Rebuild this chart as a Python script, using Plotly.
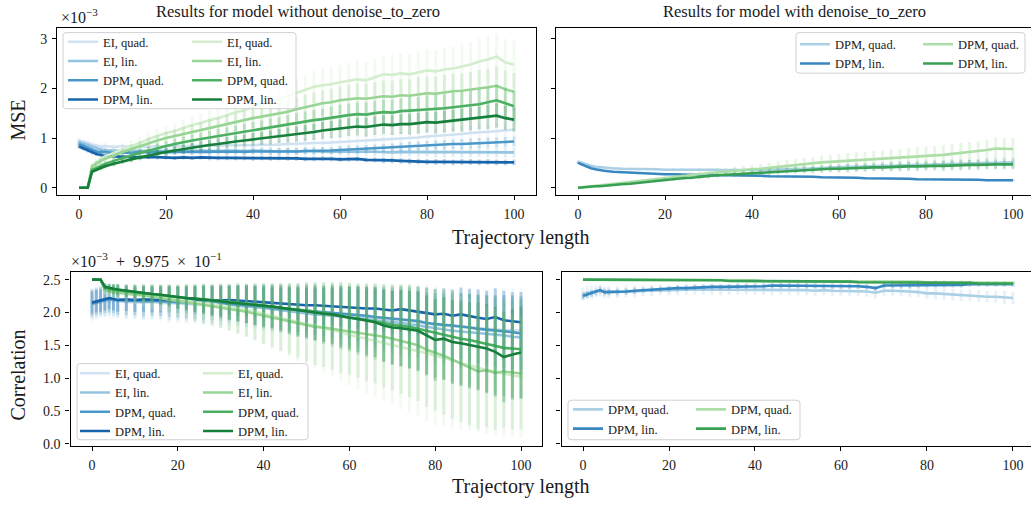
import plotly.graph_objects as go

W, H = 1031, 506

# ---------------- data ----------------
steps = [0, 1, 2, 3, 4, 5, 6, 8, 10, 12, 14, 16, 18, 20, 22, 24, 26, 28, 30, 32, 34,
         36, 38, 40, 42, 44, 46, 48, 50, 52, 54, 56, 58, 60, 62, 64, 66, 68, 70, 72,
         74, 76, 78, 80, 82, 84, 86, 88, 90, 92, 94, 96, 98, 100]

# MSE (x 1e-3), model without denoise_to_zero -- blue group
mse_a_b_ei_quad = [0.95, 0.92, 0.90, 0.87, 0.85, 0.83, 0.84,
                   0.82, 0.84, 0.82, 0.83, 0.82, 0.84, 0.83,
                   0.84, 0.83, 0.85, 0.84, 0.85, 0.84, 0.86,
                   0.85, 0.86, 0.85, 0.87, 0.86, 0.87, 0.88,
                   0.88, 0.89, 0.90, 0.90, 0.91, 0.92, 0.93,
                   0.94, 0.94, 0.96, 0.97, 0.97, 0.99, 1.00,
                   1.01, 1.03, 1.04, 1.05, 1.07, 1.08, 1.10,
                   1.11, 1.12, 1.14, 1.15, 1.17]
mse_a_b_ei_lin = [0.92, 0.89, 0.86, 0.82, 0.79, 0.77, 0.76,
                  0.75, 0.74, 0.75, 0.74, 0.75, 0.74, 0.74,
                  0.75, 0.74, 0.74, 0.75, 0.74, 0.74, 0.75,
                  0.74, 0.74, 0.75, 0.74, 0.74, 0.73, 0.74,
                  0.73, 0.74, 0.73, 0.73, 0.72, 0.73, 0.72,
                  0.72, 0.73, 0.72, 0.72, 0.71, 0.72, 0.72,
                  0.71, 0.72, 0.71, 0.71, 0.72, 0.71, 0.71,
                  0.72, 0.71, 0.71, 0.71, 0.71]
mse_a_b_dpm_quad = [0.88, 0.84, 0.80, 0.76, 0.73, 0.72, 0.71,
                    0.70, 0.71, 0.70, 0.72, 0.71, 0.72, 0.71,
                    0.72, 0.72, 0.71, 0.72, 0.72, 0.73, 0.72,
                    0.73, 0.72, 0.73, 0.73, 0.72, 0.73, 0.73,
                    0.73, 0.74, 0.74, 0.75, 0.75, 0.76, 0.77,
                    0.77, 0.78, 0.79, 0.80, 0.81, 0.82, 0.83,
                    0.84, 0.85, 0.86, 0.87, 0.88, 0.88, 0.89,
                    0.90, 0.91, 0.91, 0.92, 0.93]
mse_a_b_dpm_lin = [0.83, 0.79, 0.75, 0.71, 0.68, 0.66, 0.64,
                   0.63, 0.62, 0.62, 0.61, 0.62, 0.61, 0.61,
                   0.60, 0.61, 0.60, 0.61, 0.60, 0.60, 0.60,
                   0.60, 0.60, 0.59, 0.60, 0.59, 0.60, 0.59,
                   0.59, 0.58, 0.58, 0.59, 0.58, 0.57, 0.57,
                   0.58, 0.56, 0.56, 0.55, 0.55, 0.54, 0.53,
                   0.53, 0.52, 0.52, 0.52, 0.51, 0.52, 0.52,
                   0.51, 0.52, 0.51, 0.51, 0.51]
# green group
mse_a_g_ei_quad = [0.00, 0.00, 0.00, 0.45, 0.52, 0.58, 0.63,
                   0.70, 0.78, 0.84, 0.90, 0.98, 1.04, 1.10,
                   1.14, 1.20, 1.26, 1.30, 1.36, 1.40, 1.46,
                   1.52, 1.56, 1.64, 1.66, 1.72, 1.78, 1.84,
                   1.90, 1.96, 2.03, 2.06, 2.08, 2.12, 2.15,
                   2.18, 2.16, 2.22, 2.28, 2.27, 2.30, 2.28,
                   2.32, 2.36, 2.34, 2.38, 2.40, 2.44, 2.48,
                   2.54, 2.58, 2.64, 2.52, 2.48]
mse_a_g_ei_lin = [0.00, 0.00, 0.00, 0.42, 0.48, 0.54, 0.58,
                  0.64, 0.72, 0.78, 0.84, 0.90, 0.95, 1.00,
                  1.04, 1.08, 1.12, 1.16, 1.21, 1.24, 1.28,
                  1.32, 1.36, 1.40, 1.43, 1.46, 1.50, 1.53,
                  1.58, 1.62, 1.66, 1.70, 1.72, 1.76, 1.78,
                  1.80, 1.79, 1.82, 1.84, 1.83, 1.86, 1.85,
                  1.88, 1.90, 1.89, 1.92, 1.94, 1.95, 1.97,
                  2.00, 2.02, 2.05, 1.98, 1.93]
mse_a_g_dpm_quad = [0.00, 0.00, 0.00, 0.36, 0.40, 0.44, 0.48,
                    0.54, 0.60, 0.65, 0.70, 0.75, 0.80, 0.84,
                    0.88, 0.92, 0.95, 0.98, 1.01, 1.04, 1.07,
                    1.10, 1.13, 1.16, 1.18, 1.21, 1.24, 1.27,
                    1.30, 1.33, 1.36, 1.38, 1.41, 1.44, 1.46,
                    1.48, 1.47, 1.50, 1.52, 1.51, 1.54, 1.55,
                    1.56, 1.58, 1.59, 1.60, 1.62, 1.64, 1.66,
                    1.68, 1.72, 1.76, 1.70, 1.64]
mse_a_g_dpm_lin = [0.00, 0.00, 0.00, 0.32, 0.36, 0.40, 0.43,
                   0.48, 0.53, 0.57, 0.61, 0.65, 0.69, 0.72,
                   0.75, 0.78, 0.81, 0.84, 0.86, 0.88, 0.91,
                   0.93, 0.95, 0.97, 0.99, 1.01, 1.04, 1.06,
                   1.08, 1.10, 1.12, 1.15, 1.17, 1.19, 1.22,
                   1.23, 1.22, 1.25, 1.27, 1.26, 1.28, 1.28,
                   1.30, 1.32, 1.31, 1.33, 1.35, 1.36, 1.38,
                   1.40, 1.42, 1.45, 1.40, 1.37]
# error-bar half widths
mse_a_b_ei_quad_err = [0.06, 0.06, 0.06, 0.06, 0.06, 0.06, 0.06,
                       0.06, 0.06, 0.06, 0.07, 0.07, 0.07, 0.07,
                       0.07, 0.07, 0.08, 0.08, 0.08, 0.08, 0.08,
                       0.08, 0.09, 0.09, 0.09, 0.09, 0.09, 0.10,
                       0.10, 0.10, 0.10, 0.11, 0.11, 0.11, 0.11,
                       0.12, 0.12, 0.12, 0.12, 0.13, 0.13, 0.13,
                       0.13, 0.14, 0.14, 0.14, 0.14, 0.15, 0.15,
                       0.15, 0.15, 0.16, 0.16, 0.16]
mse_a_b_ei_lin_err = [0.05, 0.05, 0.05, 0.05, 0.05, 0.05, 0.05,
                      0.05, 0.05, 0.05, 0.05, 0.05, 0.05, 0.06,
                      0.06, 0.06, 0.06, 0.06, 0.06, 0.06, 0.06,
                      0.06, 0.07, 0.07, 0.07, 0.07, 0.07, 0.07,
                      0.07, 0.07, 0.08, 0.08, 0.08, 0.08, 0.08,
                      0.08, 0.08, 0.09, 0.09, 0.09, 0.09, 0.09,
                      0.09, 0.09, 0.10, 0.10, 0.10, 0.10, 0.10,
                      0.10, 0.10, 0.10, 0.10, 0.10]
mse_a_b_dpm_quad_err = [0.05, 0.05, 0.05, 0.05, 0.05, 0.05, 0.05,
                        0.05, 0.05, 0.05, 0.05, 0.05, 0.05, 0.05,
                        0.05, 0.05, 0.06, 0.06, 0.06, 0.06, 0.06,
                        0.06, 0.06, 0.06, 0.06, 0.07, 0.07, 0.07,
                        0.07, 0.07, 0.07, 0.07, 0.07, 0.08, 0.08,
                        0.08, 0.08, 0.08, 0.08, 0.08, 0.09, 0.09,
                        0.09, 0.09, 0.09, 0.09, 0.09, 0.10, 0.10,
                        0.10, 0.10, 0.10, 0.10, 0.10]
mse_a_b_dpm_lin_err = [0.04, 0.04, 0.04, 0.04, 0.04, 0.04, 0.04,
                       0.04, 0.04, 0.04, 0.04, 0.04, 0.04, 0.04,
                       0.04, 0.04, 0.04, 0.04, 0.05, 0.05, 0.05,
                       0.05, 0.05, 0.05, 0.05, 0.05, 0.05, 0.05,
                       0.05, 0.05, 0.05, 0.05, 0.05, 0.05, 0.05,
                       0.05, 0.05, 0.05, 0.06, 0.06, 0.06, 0.06,
                       0.06, 0.06, 0.06, 0.06, 0.06, 0.06, 0.06,
                       0.06, 0.06, 0.06, 0.06, 0.06]
mse_a_g_ei_quad_err = [0.00, 0.00, 0.00, 0.05, 0.06, 0.07, 0.08,
                       0.09, 0.10, 0.11, 0.12, 0.13, 0.14, 0.15,
                       0.16, 0.17, 0.18, 0.19, 0.20, 0.21, 0.22,
                       0.23, 0.24, 0.25, 0.26, 0.27, 0.28, 0.29,
                       0.30, 0.31, 0.32, 0.33, 0.34, 0.35, 0.36,
                       0.37, 0.38, 0.38, 0.39, 0.40, 0.40, 0.41,
                       0.42, 0.42, 0.43, 0.43, 0.44, 0.44, 0.45,
                       0.46, 0.46, 0.47, 0.47, 0.48]
mse_a_g_ei_lin_err = [0.00, 0.00, 0.00, 0.04, 0.05, 0.06, 0.06,
                      0.07, 0.08, 0.09, 0.10, 0.10, 0.11, 0.12,
                      0.13, 0.14, 0.14, 0.15, 0.16, 0.17, 0.18,
                      0.18, 0.19, 0.20, 0.21, 0.22, 0.22, 0.23,
                      0.24, 0.25, 0.26, 0.26, 0.27, 0.28, 0.29,
                      0.30, 0.30, 0.30, 0.31, 0.32, 0.32, 0.33,
                      0.34, 0.34, 0.34, 0.35, 0.35, 0.35, 0.36,
                      0.37, 0.37, 0.38, 0.38, 0.38]
mse_a_g_dpm_quad_err = [0.00, 0.00, 0.00, 0.03, 0.04, 0.05, 0.05,
                        0.06, 0.07, 0.07, 0.08, 0.08, 0.09, 0.10,
                        0.10, 0.11, 0.12, 0.12, 0.13, 0.14, 0.14,
                        0.15, 0.16, 0.16, 0.17, 0.18, 0.18, 0.19,
                        0.20, 0.20, 0.21, 0.21, 0.22, 0.23, 0.23,
                        0.24, 0.25, 0.25, 0.25, 0.26, 0.26, 0.27,
                        0.27, 0.28, 0.28, 0.28, 0.29, 0.29, 0.29,
                        0.30, 0.30, 0.31, 0.31, 0.31]
mse_a_g_dpm_lin_err = [0.00, 0.00, 0.00, 0.03, 0.03, 0.04, 0.04,
                       0.05, 0.05, 0.06, 0.06, 0.07, 0.07, 0.08,
                       0.08, 0.09, 0.09, 0.10, 0.10, 0.11, 0.11,
                       0.12, 0.12, 0.13, 0.13, 0.14, 0.14, 0.15,
                       0.15, 0.16, 0.16, 0.17, 0.17, 0.18, 0.18,
                       0.18, 0.19, 0.19, 0.19, 0.20, 0.20, 0.21,
                       0.21, 0.21, 0.22, 0.22, 0.22, 0.23, 0.23,
                       0.23, 0.24, 0.24, 0.24, 0.24]

# MSE (x 1e-3), model with denoise_to_zero
mse_b_b_dpm_quad = [0.52, 0.49, 0.46, 0.44, 0.42, 0.41, 0.40,
                    0.39, 0.38, 0.38, 0.37, 0.37, 0.37, 0.36,
                    0.36, 0.37, 0.36, 0.36, 0.36, 0.36, 0.35,
                    0.36, 0.35, 0.36, 0.35, 0.36, 0.37, 0.37,
                    0.38, 0.38, 0.39, 0.40, 0.40, 0.41, 0.42,
                    0.42, 0.43, 0.43, 0.44, 0.44, 0.45, 0.45,
                    0.46, 0.46, 0.47, 0.47, 0.48, 0.48, 0.49,
                    0.49, 0.50, 0.50, 0.51, 0.51]
mse_b_b_dpm_lin = [0.50, 0.46, 0.42, 0.39, 0.37, 0.35, 0.34,
                   0.32, 0.31, 0.30, 0.29, 0.28, 0.28, 0.27,
                   0.27, 0.26, 0.26, 0.26, 0.25, 0.25, 0.25,
                   0.25, 0.24, 0.24, 0.24, 0.23, 0.23, 0.23,
                   0.22, 0.22, 0.22, 0.21, 0.21, 0.20, 0.20,
                   0.20, 0.19, 0.19, 0.19, 0.18, 0.18, 0.18,
                   0.17, 0.17, 0.17, 0.16, 0.16, 0.16, 0.16,
                   0.16, 0.15, 0.15, 0.15, 0.15]
mse_b_g_dpm_quad = [0.00, 0.01, 0.02, 0.03, 0.04, 0.05, 0.06,
                    0.07, 0.09, 0.11, 0.13, 0.15, 0.17, 0.19,
                    0.21, 0.23, 0.25, 0.27, 0.29, 0.31, 0.32,
                    0.34, 0.35, 0.37, 0.38, 0.40, 0.42, 0.44,
                    0.46, 0.47, 0.49, 0.51, 0.52, 0.53, 0.55,
                    0.56, 0.57, 0.57, 0.58, 0.59, 0.60, 0.62,
                    0.63, 0.64, 0.65, 0.66, 0.68, 0.70, 0.71,
                    0.73, 0.76, 0.79, 0.78, 0.78]
mse_b_g_dpm_lin = [0.00, 0.01, 0.01, 0.02, 0.03, 0.03, 0.04,
                   0.05, 0.07, 0.08, 0.10, 0.12, 0.14, 0.16,
                   0.17, 0.19, 0.20, 0.22, 0.23, 0.25, 0.26,
                   0.27, 0.28, 0.30, 0.31, 0.32, 0.33, 0.34,
                   0.35, 0.36, 0.36, 0.37, 0.38, 0.38, 0.39,
                   0.40, 0.40, 0.41, 0.41, 0.42, 0.42, 0.43,
                   0.43, 0.44, 0.44, 0.44, 0.45, 0.45, 0.46,
                   0.46, 0.47, 0.47, 0.47, 0.47]
mse_b_b_dpm_quad_err = [0.04, 0.04, 0.04, 0.03, 0.03, 0.03, 0.03,
                        0.03, 0.03, 0.03, 0.03, 0.03, 0.03, 0.03,
                        0.03, 0.03, 0.03, 0.03, 0.03, 0.04, 0.04,
                        0.04, 0.04, 0.04, 0.05, 0.05, 0.05, 0.05,
                        0.06, 0.06, 0.06, 0.06, 0.07, 0.07, 0.07,
                        0.07, 0.08, 0.08, 0.08, 0.08, 0.08, 0.09,
                        0.09, 0.09, 0.09, 0.09, 0.10, 0.10, 0.10,
                        0.10, 0.10, 0.11, 0.11, 0.11]
mse_b_b_dpm_lin_err = [0.02, 0.02, 0.02, 0.02, 0.02, 0.02, 0.02,
                       0.02, 0.02, 0.02, 0.02, 0.02, 0.02, 0.02,
                       0.02, 0.02, 0.02, 0.02, 0.02, 0.02, 0.02,
                       0.02, 0.02, 0.02, 0.02, 0.02, 0.02, 0.02,
                       0.02, 0.02, 0.02, 0.02, 0.02, 0.02, 0.02,
                       0.02, 0.02, 0.02, 0.02, 0.02, 0.02, 0.02,
                       0.02, 0.02, 0.02, 0.02, 0.02, 0.02, 0.02,
                       0.02, 0.02, 0.02, 0.02, 0.02]
mse_b_g_dpm_quad_err = [0.00, 0.00, 0.00, 0.01, 0.01, 0.01, 0.01,
                        0.02, 0.02, 0.02, 0.03, 0.03, 0.04, 0.04,
                        0.05, 0.05, 0.06, 0.06, 0.07, 0.07, 0.08,
                        0.08, 0.09, 0.09, 0.10, 0.10, 0.11, 0.12,
                        0.12, 0.13, 0.13, 0.14, 0.14, 0.15, 0.15,
                        0.16, 0.16, 0.17, 0.17, 0.18, 0.18, 0.18,
                        0.19, 0.19, 0.19, 0.20, 0.20, 0.20, 0.21,
                        0.21, 0.21, 0.22, 0.22, 0.22]
mse_b_g_dpm_lin_err = [0.00, 0.00, 0.00, 0.01, 0.01, 0.01, 0.01,
                       0.01, 0.01, 0.02, 0.02, 0.02, 0.02, 0.03,
                       0.03, 0.03, 0.03, 0.04, 0.04, 0.04, 0.04,
                       0.05, 0.05, 0.05, 0.05, 0.06, 0.06, 0.06,
                       0.06, 0.07, 0.07, 0.07, 0.07, 0.07, 0.08,
                       0.08, 0.08, 0.08, 0.08, 0.09, 0.09, 0.09,
                       0.09, 0.09, 0.09, 0.10, 0.10, 0.10, 0.10,
                       0.10, 0.10, 0.10, 0.10, 0.10]

# Correlation, in units of 1e-3 above 0.9975 -- model without denoise_to_zero
cor_a_b_ei_quad = [2.12, 2.14, 2.16, 2.17, 2.18, 2.17, 2.17,
                   2.16, 2.15, 2.15, 2.16, 2.14, 2.14, 2.13,
                   2.13, 2.12, 2.12, 2.11, 2.11, 2.10, 2.10,
                   2.09, 2.08, 2.07, 2.05, 2.05, 2.03, 2.02,
                   2.00, 1.99, 1.98, 1.97, 1.96, 1.95, 1.94,
                   1.93, 1.92, 1.90, 1.89, 1.88, 1.86, 1.85,
                   1.83, 1.81, 1.80, 1.79, 1.78, 1.77, 1.75,
                   1.74, 1.74, 1.73, 1.73, 1.72]
cor_a_b_ei_lin = [2.13, 2.15, 2.17, 2.18, 2.20, 2.19, 2.18,
                  2.17, 2.17, 2.16, 2.17, 2.16, 2.15, 2.15,
                  2.14, 2.14, 2.13, 2.13, 2.12, 2.12, 2.11,
                  2.10, 2.09, 2.07, 2.05, 2.04, 2.02, 2.00,
                  1.98, 1.97, 1.96, 1.95, 1.94, 1.92, 1.91,
                  1.90, 1.88, 1.87, 1.85, 1.84, 1.82, 1.80,
                  1.77, 1.75, 1.74, 1.72, 1.71, 1.70, 1.68,
                  1.67, 1.66, 1.65, 1.63, 1.62]
cor_a_b_dpm_quad = [2.14, 2.16, 2.18, 2.20, 2.21, 2.20, 2.19,
                    2.18, 2.18, 2.17, 2.18, 2.17, 2.17, 2.16,
                    2.16, 2.15, 2.15, 2.14, 2.14, 2.13, 2.13,
                    2.12, 2.11, 2.09, 2.07, 2.06, 2.05, 2.03,
                    2.02, 2.01, 2.00, 1.99, 1.98, 1.97, 1.96,
                    1.95, 1.93, 1.92, 1.90, 1.90, 1.88, 1.87,
                    1.84, 1.82, 1.81, 1.80, 1.79, 1.77, 1.75,
                    1.74, 1.72, 1.71, 1.70, 1.68]
cor_a_b_dpm_lin = [2.15, 2.17, 2.18, 2.20, 2.22, 2.21, 2.19,
                   2.20, 2.19, 2.20, 2.19, 2.19, 2.20, 2.19,
                   2.19, 2.18, 2.19, 2.18, 2.18, 2.19, 2.18,
                   2.17, 2.16, 2.15, 2.14, 2.14, 2.13, 2.12,
                   2.11, 2.11, 2.10, 2.10, 2.09, 2.08, 2.07,
                   2.06, 2.06, 2.04, 2.03, 2.05, 2.03, 2.02,
                   2.00, 1.97, 1.98, 1.95, 1.97, 1.94, 1.92,
                   1.90, 1.93, 1.88, 1.86, 1.85]
cor_a_g_ei_quad = [2.50, 2.50, 2.50, 2.35, 2.33, 2.32, 2.31,
                   2.29, 2.28, 2.27, 2.25, 2.23, 2.21, 2.19,
                   2.18, 2.16, 2.14, 2.13, 2.11, 2.09, 2.07,
                   2.04, 2.01, 1.98, 1.95, 1.92, 1.88, 1.85,
                   1.82, 1.79, 1.76, 1.73, 1.70, 1.66, 1.63,
                   1.60, 1.57, 1.54, 1.51, 1.48, 1.45, 1.42,
                   1.38, 1.34, 1.31, 1.27, 1.23, 1.20, 1.16,
                   1.12, 1.09, 1.06, 1.04, 1.02]
cor_a_g_ei_lin = [2.50, 2.50, 2.50, 2.34, 2.32, 2.31, 2.30,
                  2.28, 2.27, 2.26, 2.24, 2.22, 2.20, 2.18,
                  2.16, 2.14, 2.12, 2.10, 2.08, 2.06, 2.04,
                  2.01, 1.98, 1.95, 1.92, 1.90, 1.87, 1.84,
                  1.80, 1.78, 1.77, 1.75, 1.73, 1.72, 1.70,
                  1.68, 1.66, 1.63, 1.60, 1.57, 1.54, 1.50,
                  1.43, 1.39, 1.34, 1.28, 1.22, 1.16, 1.10,
                  1.12, 1.08, 1.10, 1.08, 1.07]
cor_a_g_dpm_quad = [2.50, 2.50, 2.50, 2.38, 2.36, 2.35, 2.34,
                    2.32, 2.31, 2.29, 2.28, 2.26, 2.25, 2.23,
                    2.22, 2.21, 2.20, 2.18, 2.17, 2.16, 2.15,
                    2.13, 2.12, 2.10, 2.09, 2.07, 2.06, 2.04,
                    2.03, 2.01, 1.99, 1.97, 1.95, 1.93, 1.90,
                    1.88, 1.86, 1.84, 1.81, 1.80, 1.78, 1.75,
                    1.72, 1.68, 1.66, 1.63, 1.60, 1.58, 1.55,
                    1.52, 1.49, 1.46, 1.45, 1.44]
cor_a_g_dpm_lin = [2.50, 2.50, 2.50, 2.39, 2.37, 2.36, 2.35,
                   2.33, 2.31, 2.30, 2.28, 2.27, 2.25, 2.23,
                   2.22, 2.21, 2.20, 2.18, 2.17, 2.15, 2.14,
                   2.13, 2.11, 2.10, 2.09, 2.07, 2.05, 2.03,
                   2.02, 2.00, 1.98, 1.97, 1.94, 1.92, 1.90,
                   1.87, 1.85, 1.80, 1.77, 1.76, 1.74, 1.72,
                   1.65, 1.58, 1.60, 1.55, 1.53, 1.50, 1.48,
                   1.45, 1.40, 1.32, 1.36, 1.39]
cor_a_b_ei_quad_err = [0.25, 0.25, 0.25, 0.26, 0.26, 0.26, 0.27,
                       0.27, 0.27, 0.28, 0.28, 0.28, 0.29, 0.29,
                       0.30, 0.30, 0.31, 0.31, 0.32, 0.32, 0.33,
                       0.34, 0.34, 0.35, 0.36, 0.37, 0.38, 0.39,
                       0.40, 0.41, 0.42, 0.43, 0.44, 0.45, 0.46,
                       0.47, 0.48, 0.49, 0.50, 0.51, 0.52, 0.53,
                       0.54, 0.55, 0.56, 0.57, 0.58, 0.59, 0.60,
                       0.61, 0.62, 0.63, 0.64, 0.65]
cor_a_b_ei_lin_err = [0.23, 0.23, 0.23, 0.24, 0.24, 0.24, 0.25,
                      0.25, 0.25, 0.26, 0.26, 0.26, 0.27, 0.27,
                      0.28, 0.28, 0.29, 0.29, 0.30, 0.30, 0.31,
                      0.32, 0.32, 0.33, 0.34, 0.35, 0.36, 0.37,
                      0.38, 0.39, 0.40, 0.41, 0.42, 0.43, 0.44,
                      0.45, 0.46, 0.47, 0.48, 0.49, 0.50, 0.51,
                      0.52, 0.53, 0.54, 0.55, 0.56, 0.57, 0.58,
                      0.59, 0.60, 0.61, 0.62, 0.63]
cor_a_b_dpm_quad_err = [0.20, 0.20, 0.20, 0.21, 0.21, 0.21, 0.22,
                        0.22, 0.22, 0.23, 0.23, 0.23, 0.24, 0.24,
                        0.25, 0.25, 0.26, 0.26, 0.27, 0.27, 0.28,
                        0.28, 0.29, 0.30, 0.30, 0.31, 0.32, 0.33,
                        0.34, 0.35, 0.36, 0.37, 0.38, 0.38, 0.39,
                        0.40, 0.41, 0.42, 0.43, 0.44, 0.45, 0.46,
                        0.47, 0.48, 0.49, 0.50, 0.50, 0.51, 0.52,
                        0.53, 0.54, 0.55, 0.56, 0.56]
cor_a_b_dpm_lin_err = [0.17, 0.17, 0.17, 0.17, 0.17, 0.18, 0.18,
                       0.18, 0.18, 0.19, 0.19, 0.19, 0.20, 0.20,
                       0.20, 0.21, 0.21, 0.21, 0.22, 0.22, 0.23,
                       0.23, 0.24, 0.24, 0.25, 0.25, 0.26, 0.27,
                       0.27, 0.28, 0.29, 0.29, 0.30, 0.31, 0.32,
                       0.32, 0.33, 0.34, 0.35, 0.35, 0.36, 0.37,
                       0.38, 0.39, 0.39, 0.40, 0.41, 0.42, 0.43,
                       0.43, 0.44, 0.45, 0.45, 0.46]
cor_a_g_ei_quad_err = [0.00, 0.00, 0.00, 0.08, 0.09, 0.10, 0.11,
                       0.13, 0.15, 0.17, 0.19, 0.21, 0.23, 0.25,
                       0.27, 0.29, 0.31, 0.33, 0.35, 0.37, 0.39,
                       0.41, 0.44, 0.47, 0.50, 0.53, 0.56, 0.59,
                       0.62, 0.65, 0.68, 0.71, 0.74, 0.77, 0.80,
                       0.83, 0.86, 0.89, 0.92, 0.95, 0.98, 1.01,
                       1.04, 1.06, 1.05, 1.03, 1.02, 1.00, 0.99,
                       0.97, 0.96, 0.95, 0.94, 0.93]
cor_a_g_ei_lin_err = [0.00, 0.00, 0.00, 0.07, 0.08, 0.09, 0.10,
                      0.12, 0.14, 0.16, 0.17, 0.19, 0.21, 0.23,
                      0.25, 0.27, 0.29, 0.30, 0.32, 0.34, 0.36,
                      0.38, 0.40, 0.43, 0.45, 0.48, 0.50, 0.53,
                      0.55, 0.58, 0.60, 0.62, 0.65, 0.67, 0.70,
                      0.72, 0.74, 0.77, 0.79, 0.81, 0.83, 0.85,
                      0.87, 0.89, 0.90, 0.90, 0.89, 0.88, 0.88,
                      0.87, 0.87, 0.86, 0.86, 0.85]
cor_a_g_dpm_quad_err = [0.00, 0.00, 0.00, 0.06, 0.07, 0.08, 0.09,
                        0.10, 0.11, 0.12, 0.14, 0.15, 0.17, 0.18,
                        0.20, 0.21, 0.23, 0.24, 0.26, 0.27, 0.29,
                        0.30, 0.32, 0.34, 0.35, 0.37, 0.39, 0.41,
                        0.43, 0.45, 0.47, 0.49, 0.51, 0.52, 0.54,
                        0.56, 0.58, 0.59, 0.61, 0.62, 0.64, 0.65,
                        0.66, 0.67, 0.68, 0.69, 0.70, 0.71, 0.72,
                        0.73, 0.74, 0.74, 0.75, 0.75]
cor_a_g_dpm_lin_err = [0.00, 0.00, 0.00, 0.05, 0.06, 0.07, 0.08,
                       0.09, 0.10, 0.11, 0.12, 0.14, 0.15, 0.17,
                       0.18, 0.20, 0.21, 0.23, 0.24, 0.26, 0.27,
                       0.29, 0.30, 0.32, 0.33, 0.35, 0.36, 0.38,
                       0.40, 0.42, 0.43, 0.45, 0.47, 0.48, 0.50,
                       0.52, 0.53, 0.55, 0.56, 0.58, 0.59, 0.60,
                       0.61, 0.62, 0.63, 0.64, 0.65, 0.66, 0.67,
                       0.68, 0.68, 0.69, 0.69, 0.70]

# Correlation, model with denoise_to_zero
cor_b_b_dpm_quad = [2.28, 2.30, 2.31, 2.32, 2.33, 2.31, 2.31,
                    2.31, 2.32, 2.32, 2.33, 2.33, 2.34, 2.34,
                    2.34, 2.35, 2.35, 2.35, 2.35, 2.34, 2.35,
                    2.35, 2.35, 2.35, 2.35, 2.34, 2.35, 2.34,
                    2.34, 2.34, 2.33, 2.34, 2.33, 2.33, 2.33,
                    2.33, 2.32, 2.30, 2.33, 2.33, 2.33, 2.32,
                    2.31, 2.29, 2.29, 2.28, 2.27, 2.26, 2.26,
                    2.25, 2.24, 2.24, 2.23, 2.22]
cor_b_b_dpm_lin = [2.25, 2.27, 2.29, 2.31, 2.34, 2.31, 2.31,
                   2.31, 2.32, 2.33, 2.34, 2.35, 2.35, 2.36,
                   2.37, 2.37, 2.38, 2.38, 2.39, 2.39, 2.39,
                   2.40, 2.40, 2.40, 2.40, 2.41, 2.41, 2.41,
                   2.41, 2.41, 2.41, 2.40, 2.40, 2.40, 2.40,
                   2.40, 2.39, 2.37, 2.41, 2.41, 2.41, 2.41,
                   2.42, 2.42, 2.42, 2.42, 2.42, 2.42, 2.43,
                   2.43, 2.43, 2.43, 2.43, 2.43]
cor_b_g_dpm_quad = [2.50, 2.50, 2.50, 2.50, 2.50, 2.50, 2.50,
                    2.50, 2.50, 2.50, 2.50, 2.50, 2.50, 2.49,
                    2.49, 2.49, 2.49, 2.49, 2.49, 2.49, 2.49,
                    2.49, 2.49, 2.49, 2.48, 2.48, 2.48, 2.48,
                    2.48, 2.48, 2.48, 2.48, 2.48, 2.48, 2.48,
                    2.47, 2.47, 2.47, 2.47, 2.47, 2.47, 2.47,
                    2.47, 2.46, 2.46, 2.46, 2.46, 2.46, 2.46,
                    2.45, 2.45, 2.45, 2.45, 2.45]
cor_b_g_dpm_lin = [2.50, 2.50, 2.50, 2.50, 2.50, 2.50, 2.50,
                   2.50, 2.50, 2.50, 2.50, 2.50, 2.49, 2.49,
                   2.49, 2.49, 2.49, 2.49, 2.49, 2.49, 2.48,
                   2.48, 2.48, 2.48, 2.48, 2.48, 2.48, 2.48,
                   2.47, 2.47, 2.47, 2.47, 2.47, 2.47, 2.47,
                   2.46, 2.46, 2.46, 2.46, 2.46, 2.46, 2.46,
                   2.45, 2.45, 2.45, 2.45, 2.45, 2.45, 2.45,
                   2.44, 2.44, 2.44, 2.44, 2.44]
cor_b_b_dpm_quad_err = [0.10, 0.10, 0.10, 0.09, 0.09, 0.09, 0.09,
                        0.09, 0.09, 0.09, 0.08, 0.08, 0.08, 0.08,
                        0.08, 0.08, 0.08, 0.08, 0.08, 0.08, 0.08,
                        0.08, 0.08, 0.08, 0.08, 0.08, 0.08, 0.08,
                        0.08, 0.08, 0.08, 0.08, 0.08, 0.08, 0.08,
                        0.08, 0.08, 0.09, 0.08, 0.08, 0.08, 0.08,
                        0.08, 0.09, 0.09, 0.09, 0.09, 0.09, 0.09,
                        0.09, 0.09, 0.09, 0.10, 0.10]
cor_b_b_dpm_lin_err = [0.05, 0.05, 0.05, 0.05, 0.05, 0.05, 0.05,
                       0.05, 0.05, 0.05, 0.04, 0.04, 0.04, 0.04,
                       0.04, 0.04, 0.04, 0.04, 0.04, 0.04, 0.04,
                       0.04, 0.04, 0.04, 0.04, 0.04, 0.04, 0.04,
                       0.04, 0.04, 0.04, 0.04, 0.04, 0.04, 0.04,
                       0.04, 0.04, 0.04, 0.04, 0.04, 0.04, 0.04,
                       0.04, 0.04, 0.04, 0.04, 0.04, 0.04, 0.04,
                       0.04, 0.04, 0.04, 0.04, 0.04]
cor_b_g_dpm_quad_err = [0.00, 0.00, 0.00, 0.00, 0.00, 0.00, 0.00,
                        0.01, 0.01, 0.01, 0.01, 0.01, 0.01, 0.01,
                        0.01, 0.01, 0.01, 0.01, 0.01, 0.01, 0.01,
                        0.01, 0.01, 0.01, 0.01, 0.01, 0.01, 0.02,
                        0.02, 0.02, 0.02, 0.02, 0.02, 0.02, 0.02,
                        0.02, 0.02, 0.02, 0.02, 0.02, 0.02, 0.02,
                        0.02, 0.02, 0.03, 0.03, 0.03, 0.03, 0.03,
                        0.03, 0.03, 0.03, 0.03, 0.03]
cor_b_g_dpm_lin_err = [0.00, 0.00, 0.00, 0.00, 0.00, 0.00, 0.00,
                       0.00, 0.00, 0.01, 0.01, 0.01, 0.01, 0.01,
                       0.01, 0.01, 0.01, 0.01, 0.01, 0.01, 0.01,
                       0.01, 0.01, 0.01, 0.01, 0.01, 0.01, 0.01,
                       0.01, 0.01, 0.01, 0.01, 0.01, 0.01, 0.01,
                       0.01, 0.01, 0.01, 0.01, 0.01, 0.01, 0.01,
                       0.02, 0.02, 0.02, 0.02, 0.02, 0.02, 0.02,
                       0.02, 0.02, 0.02, 0.02, 0.02]

labels_4 = ["EI, quad.", "EI, lin.", "DPM, quad.", "DPM, lin."]
labels_2 = ["DPM, quad.", "DPM, lin."]
blues_4 = ["#d0e1f2", "#94c4df", "#4a98c9", "#1764ab"]
greens_4 = ["#d3eecd", "#98d594", "#4bb062", "#157f3b"]
blues_2 = ["#abd0e6", "#3787c0"]
greens_2 = ["#aedea7", "#37a055"]

titles = ["Results for model without denoise_to_zero",
          "Results for model with denoise_to_zero"]
xticks = [0, 20, 40, 60, 80, 100]
mse_ticks = [0, 1, 2, 3]
cor_ticks = [0.0, 0.5, 1.0, 1.5, 2.0, 2.5]

# ---------------- figure ----------------
FONT = "Liberation Serif"
TXT = "#1a1a1a"
NB = "\u00a0"


def rgba(hexc, a):
    h = hexc.lstrip("#")
    return "rgba(%d,%d,%d,%.2f)" % (int(h[0:2], 16), int(h[2:4], 16), int(h[4:6], 16), a)


def px(xp):
    return xp / W


def py(yp):
    return 1 - yp / H


fig = go.Figure()


def add(ys, errs, color, name, xa, ya, legend):
    fig.add_trace(go.Scatter(
        x=steps, y=ys, mode="lines", name=name,
        line=dict(color=color, width=2.6),
        error_y=dict(type="data", array=errs, visible=True, width=0,
                     thickness=3.0, color=rgba(color, 0.28)),
        xaxis=xa, yaxis=ya, legend=legend, showlegend=True,
        hoverinfo="skip"))


# top-left
for ys, es, c, n in zip([mse_a_b_ei_quad, mse_a_b_ei_lin, mse_a_b_dpm_quad, mse_a_b_dpm_lin],
                        [mse_a_b_ei_quad_err, mse_a_b_ei_lin_err, mse_a_b_dpm_quad_err, mse_a_b_dpm_lin_err],
                        blues_4, labels_4):
    add(ys, es, c, n, "x", "y", "legend")
for ys, es, c, n in zip([mse_a_g_ei_quad, mse_a_g_ei_lin, mse_a_g_dpm_quad, mse_a_g_dpm_lin],
                        [mse_a_g_ei_quad_err, mse_a_g_ei_lin_err, mse_a_g_dpm_quad_err, mse_a_g_dpm_lin_err],
                        greens_4, labels_4):
    add(ys, es, c, n, "x", "y", "legend2")
# top-right
for ys, es, c, n in zip([mse_b_b_dpm_quad, mse_b_b_dpm_lin],
                        [mse_b_b_dpm_quad_err, mse_b_b_dpm_lin_err], blues_2, labels_2):
    add(ys, es, c, n, "x2", "y2", "legend3")
for ys, es, c, n in zip([mse_b_g_dpm_quad, mse_b_g_dpm_lin],
                        [mse_b_g_dpm_quad_err, mse_b_g_dpm_lin_err], greens_2, labels_2):
    add(ys, es, c, n, "x2", "y2", "legend4")
# bottom-left
for ys, es, c, n in zip([cor_a_b_ei_quad, cor_a_b_ei_lin, cor_a_b_dpm_quad, cor_a_b_dpm_lin],
                        [cor_a_b_ei_quad_err, cor_a_b_ei_lin_err, cor_a_b_dpm_quad_err, cor_a_b_dpm_lin_err],
                        blues_4, labels_4):
    add(ys, es, c, n, "x3", "y3", "legend5")
for ys, es, c, n in zip([cor_a_g_ei_quad, cor_a_g_ei_lin, cor_a_g_dpm_quad, cor_a_g_dpm_lin],
                        [cor_a_g_ei_quad_err, cor_a_g_ei_lin_err, cor_a_g_dpm_quad_err, cor_a_g_dpm_lin_err],
                        greens_4, labels_4):
    add(ys, es, c, n, "x3", "y3", "legend6")
# bottom-right
for ys, es, c, n in zip([cor_b_b_dpm_quad, cor_b_b_dpm_lin],
                        [cor_b_b_dpm_quad_err, cor_b_b_dpm_lin_err], blues_2, labels_2):
    add(ys, es, c, n, "x4", "y4", "legend7")
for ys, es, c, n in zip([cor_b_g_dpm_quad, cor_b_g_dpm_lin],
                        [cor_b_g_dpm_quad_err, cor_b_g_dpm_lin_err], greens_2, labels_2):
    add(ys, es, c, n, "x4", "y4", "legend8")

tickfont = dict(family=FONT, size=14, color=TXT)
axis_common = dict(showgrid=False, zeroline=False, ticks="outside", ticklen=4,
                   tickwidth=1, tickcolor="black", linecolor="black", linewidth=1.3,
                   showline=True, tickfont=tickfont, ticklabelstandoff=2)

xa = dict(tickvals=xticks, **axis_common)
fig.update_layout(
    xaxis=dict(domain=[px(57.25), px(535.75)], range=[-5, 105], anchor="y", mirror=True, **xa),
    yaxis=dict(domain=[py(197), py(28)], range=[-0.14, 3.22], anchor="x", mirror=True,
               tickvals=mse_ticks, **axis_common),
    xaxis2=dict(domain=[px(556.25), 1.0], range=[-5, 104.14], anchor="y2", mirror=True, **xa),
    yaxis2=dict(domain=[py(197), py(28)], range=[-0.14, 3.22], anchor="x2",
                tickvals=mse_ticks, showticklabels=False, **axis_common),
    xaxis3=dict(domain=[px(70.55), px(542.45)], range=[-5, 105], anchor="y3", mirror=True, **xa),
    yaxis3=dict(domain=[py(451), py(275)], range=[-0.03, 2.62], anchor="x3", mirror=True,
                tickvals=cor_ticks, ticktext=["%.1f" % v for v in cor_ticks], **axis_common),
    xaxis4=dict(domain=[px(561.5), 1.0], range=[-5, 104.19], anchor="y4", mirror=True, **xa),
    yaxis4=dict(domain=[py(451), py(275)], range=[-0.03, 2.62], anchor="x4",
                tickvals=cor_ticks, showticklabels=False, **axis_common),
)

legfont = dict(family=FONT, size=12.5, color=TXT)


def leg(xp, yp):
    return dict(x=px(xp), y=py(yp), xanchor="left", yanchor="top", bgcolor="rgba(0,0,0,0)",
                borderwidth=0, font=legfont, itemwidth=30, tracegroupgap=0,
                traceorder="normal", orientation="v")


fig.update_layout(
    legend=leg(63, 27.5), legend2=leg(187, 27.5),
    legend3=leg(795, 30), legend4=leg(918, 30),
    legend5=leg(75, 363), legend6=leg(198, 363),
    legend7=leg(568, 399.5), legend8=leg(691, 399.5),
)


def rounded(x0, y0, x1, y1, r=3):
    rx, ry = r / W, r / H
    X0, X1 = px(x0), px(x1)
    Y0, Y1 = py(y0), py(y1)  # Y0 top, Y1 bottom
    return ("M %f,%f L %f,%f Q %f,%f %f,%f L %f,%f Q %f,%f %f,%f L %f,%f Q %f,%f %f,%f "
            "L %f,%f Q %f,%f %f,%f Z" % (
                X0 + rx, Y0, X1 - rx, Y0, X1, Y0, X1, Y0 - ry,
                X1, Y1 + ry, X1, Y1, X1 - rx, Y1,
                X0 + rx, Y1, X0, Y1, X0, Y1 + ry,
                X0, Y0 - ry, X0, Y0, X0 + rx, Y0))


shapes = []
for (a, b, c, d) in [(63, 33, 296, 110), (796, 33, 1025, 74), (77, 368, 308, 445), (568, 405, 800, 445)]:
    shapes.append(dict(type="path", path=rounded(a, b, c, d), xref="paper", yref="paper",
                       fillcolor="rgba(255,255,255,0.8)", line=dict(color="rgba(204,204,204,0.9)", width=1),
                       layer="above"))
fig.update_layout(shapes=shapes)

ann = []
ann.append(dict(text=titles[0], x=px(297.5), y=py(12), xref="paper", yref="paper",
                showarrow=False, font=dict(family=FONT, size=16.5, color=TXT), xanchor="center", yanchor="middle"))
ann.append(dict(text=titles[1], x=px(794), y=py(12), xref="paper", yref="paper",
                showarrow=False, font=dict(family=FONT, size=16.5, color=TXT), xanchor="center", yanchor="middle"))
for yy in (240, 492):
    ann.append(dict(text="Trajectory length", x=px(521), y=py(yy), xref="paper", yref="paper",
                    showarrow=False, font=dict(family=FONT, size=20, color=TXT), xanchor="center", yanchor="middle"))
ann.append(dict(text="MSE", x=px(18), y=py(122), xref="paper", yref="paper", textangle=-90,
                showarrow=False, font=dict(family=FONT, size=20, color=TXT), xanchor="center", yanchor="middle"))
ann.append(dict(text="Correlation", x=px(18), y=py(380), xref="paper", yref="paper", textangle=-90,
                showarrow=False, font=dict(family=FONT, size=20, color=TXT), xanchor="center", yanchor="middle"))
ann.append(dict(text="×10<sup>−3</sup>", x=px(59), y=py(16), xref="paper", yref="paper",
                showarrow=False, font=dict(family=FONT, size=16, color=TXT), xanchor="left", yanchor="middle"))
ann.append(dict(text="×10<sup>−3</sup>" + NB + " +" + NB + " 9.975" + NB + " ×" + NB + " 10<sup>−1</sup>",
                x=px(69), y=py(263), xref="paper", yref="paper",
                showarrow=False, font=dict(family=FONT, size=16, color=TXT), xanchor="left", yanchor="middle"))
fig.update_layout(annotations=ann)

fig.update_layout(width=W, height=H, margin=dict(l=0, r=0, t=0, b=0),
                  paper_bgcolor="white", plot_bgcolor="white",
                  font=dict(family=FONT, color=TXT))

fig.write_html("out.html")
